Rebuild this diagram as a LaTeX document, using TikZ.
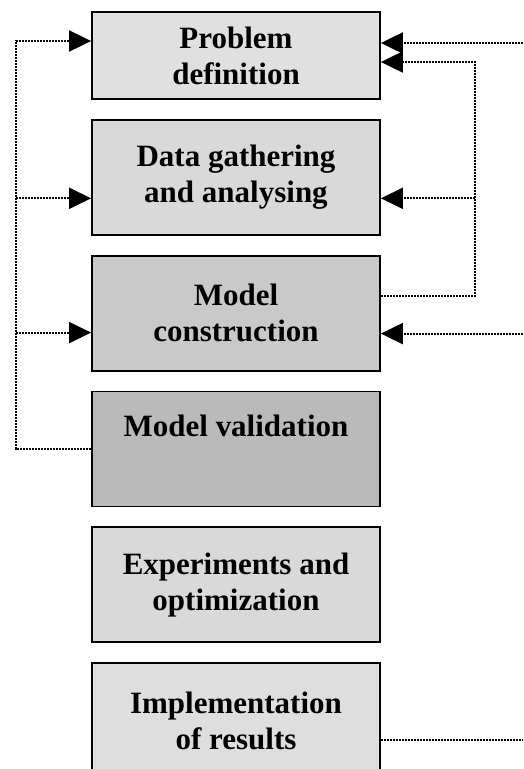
\documentclass[tikz,border=0pt]{standalone}
\usepackage{fontspec}
\setmainfont{Liberation Serif}
\usetikzlibrary{positioning,arrows.meta}

\tikzset{
  stage/.style={draw, line width=1.8pt, minimum width=288pt, minimum height=115pt,
    align=center, inner sep=4pt, font=\bfseries\fontsize{31}{36}\selectfont},
  fb/.style={dash pattern=on 2pt off 1pt, line width=2pt},
  tip/.style={-{Triangle[length=22pt,width=21pt]}}
}

\begin{document}
\begin{tikzpicture}[x=1pt,y=-1pt]
  \useasboundingbox (0,0) rectangle (523,769);
  % the six stages
  \node[stage, fill=black!12, minimum height=87pt] (prob) at (236,55.5) {Problem\\definition};
  \node[stage, fill=black!15, below=19pt of prob] (data) {Data gathering\\and analysing};
  \node[stage, fill=black!21, below=19pt of data] (cons) {Model\\construction};
  \node[stage, fill=black!27, below=19pt of cons] (val) {Model validation\\[10pt]~};
  \node[stage, fill=black!15, below=19pt of val] (exp) {Experiments and\\optimization};
  \node[stage, fill=black!13, below=19pt of exp] (impl) {Implementation\\of results};
  % rails and arrow ends
  \coordinate (L) at (16,0);
  \coordinate (R) at (475,0);
  \coordinate (E) at (523,0);
  \coordinate (p1) at ([yshift=14.5pt]prob.west);
  \coordinate (d1) at ([yshift=-21pt]data.west);
  \coordinate (c1) at ([yshift=-19.5pt]cons.west);
  \coordinate (p2) at ([yshift=12.5pt]prob.east);
  \coordinate (p3) at ([yshift=-6.5pt]prob.east);
  \coordinate (d2) at ([yshift=-21pt]data.east);
  \coordinate (c2) at ([yshift=17.5pt]cons.east);
  \coordinate (c3) at ([yshift=-20.5pt]cons.east);
  \coordinate (i1) at ([yshift=-19.5pt]impl.east);
  % feedback from validation
  \draw[fb,tip] (val.west) -| (L |- p1) -- (p1);
  \draw[fb,tip] (L |- d1) -- (d1);
  \draw[fb,tip] (L |- c1) -- (c1);
  % feedback on the right
  \draw[fb,tip] (E |- p2) -- (p2);
  \draw[fb,tip] (c2) -| (R |- p3) -- (p3);
  \draw[fb,tip] (R |- d2) -- (d2);
  \draw[fb,tip] (E |- c3) -- (c3);
  \draw[fb] (i1) -- (E |- i1);
\end{tikzpicture}
\end{document}
